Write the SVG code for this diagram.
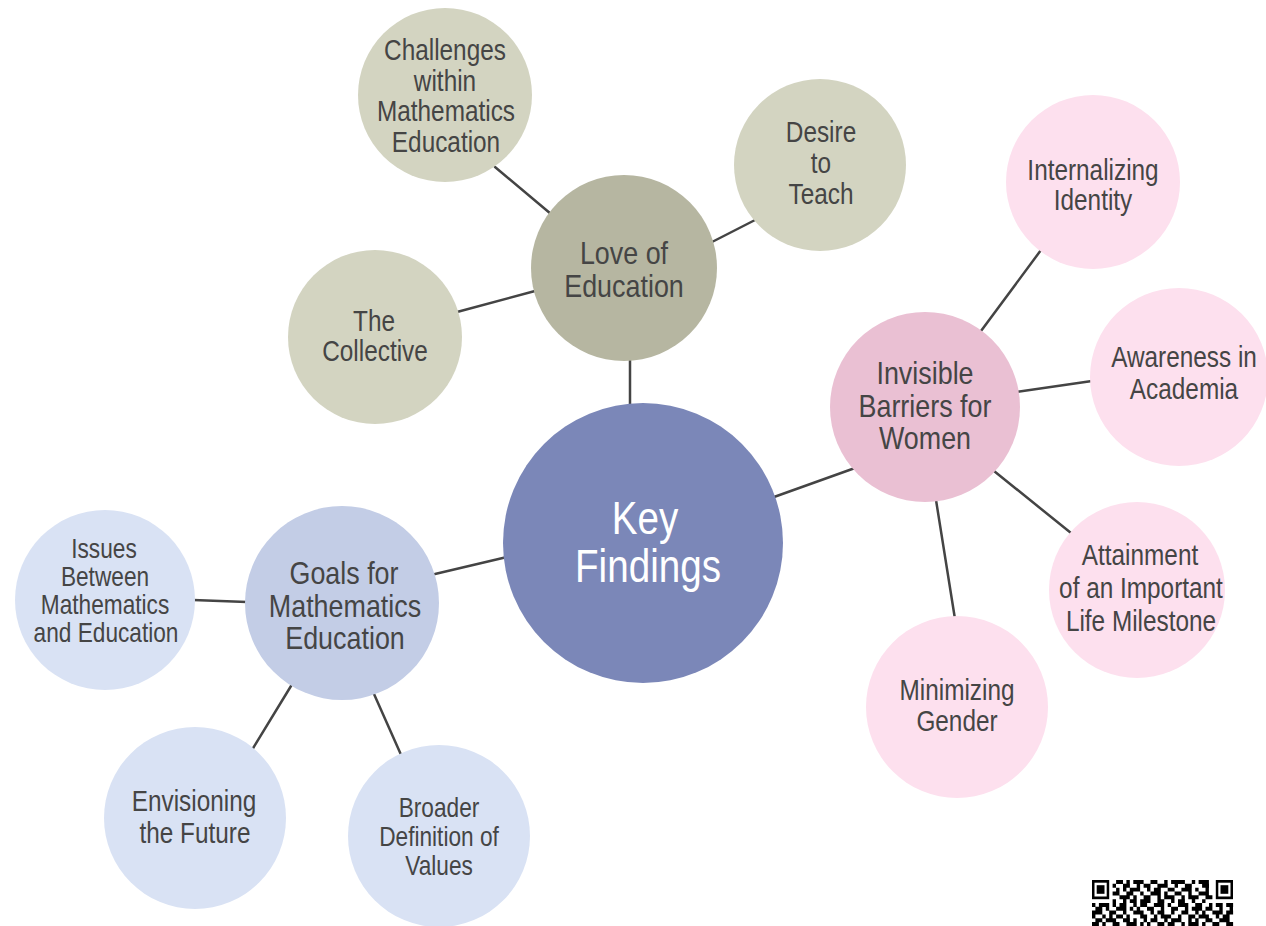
<svg xmlns="http://www.w3.org/2000/svg" width="1266" height="926" viewBox="0 0 1266 926">
<style>
.t{font-family:"Liberation Sans",Arial,sans-serif;fill:#454545;text-anchor:middle}
.s{font-size:29px}
.s2{font-size:27px}
.m{font-size:32px}
.k{font-size:46px;fill:#ffffff}
.olive{fill:#d3d4c1}
.pink{fill:#fde0ee}
.blue{fill:#d9e2f4}
#connectors line{stroke:#444444;stroke-width:2.5;stroke-linecap:round}
</style>
<rect width="1266" height="926" fill="#ffffff"/>
<g id="connectors">
<line x1="630" y1="360" x2="630" y2="406"/>
<line x1="551" y1="214" x2="495" y2="167"/>
<line x1="712" y1="242" x2="757" y2="219"/>
<line x1="535" y1="291" x2="457" y2="312"/>
<line x1="774" y1="497" x2="855" y2="468"/>
<line x1="507" y1="557" x2="435" y2="574"/>
<line x1="981" y1="331" x2="1041" y2="250"/>
<line x1="1016" y1="392" x2="1092" y2="381"/>
<line x1="994" y1="471" x2="1071" y2="533"/>
<line x1="936" y1="500" x2="955" y2="619"/>
<line x1="193" y1="600" x2="247" y2="602"/>
<line x1="291" y1="686" x2="252" y2="750"/>
<line x1="374" y1="694" x2="402" y2="757"/>
</g>
<g id="n-key"><circle cx="643" cy="543" r="140" fill="#7b87b8"/><text class="t k" transform="matrix(0.84 0 0 1 645 534)">Key</text><text class="t k" transform="matrix(0.84 0 0 1 648 582)">Findings</text></g>
<g id="n-love"><circle cx="624" cy="268" r="93" fill="#b6b6a1"/><text class="t m" transform="matrix(0.84 0 0 1 624 264)">Love of</text><text class="t m" transform="matrix(0.84 0 0 1 624 297)">Education</text></g>
<g id="n-challenges"><circle class="olive" cx="445" cy="95" r="87"/><text class="t s" transform="matrix(0.84 0 0 1 445 60)">Challenges</text><text class="t s" transform="matrix(0.84 0 0 1 445 91)">within</text><text class="t s" transform="matrix(0.84 0 0 1 446 121)">Mathematics</text><text class="t s" transform="matrix(0.84 0 0 1 446 152)">Education</text></g>
<g id="n-desire"><circle class="olive" cx="820" cy="165" r="86"/><text class="t s" transform="matrix(0.84 0 0 1 821 142)">Desire</text><text class="t s" transform="matrix(0.84 0 0 1 821 173)">to</text><text class="t s" transform="matrix(0.84 0 0 1 821 204)">Teach</text></g>
<g id="n-collective"><circle class="olive" cx="375" cy="337" r="87"/><text class="t s" transform="matrix(0.84 0 0 1 374 331)">The</text><text class="t s" transform="matrix(0.84 0 0 1 375 361)">Collective</text></g>
<g id="n-invisible"><circle cx="925" cy="407" r="95" fill="#eac0d3"/><text class="t m" transform="matrix(0.84 0 0 1 925 384)">Invisible</text><text class="t m" transform="matrix(0.84 0 0 1 925 417)">Barriers for</text><text class="t m" transform="matrix(0.84 0 0 1 925 449)">Women</text></g>
<g id="n-internalizing"><circle class="pink" cx="1093" cy="182" r="87"/><text class="t s" transform="matrix(0.84 0 0 1 1093 180)">Internalizing</text><text class="t s" transform="matrix(0.84 0 0 1 1093 210)">Identity</text></g>
<g id="n-awareness"><circle class="pink" cx="1179" cy="377" r="89"/><text class="t s" transform="matrix(0.84 0 0 1 1184 367)">Awareness in</text><text class="t s" transform="matrix(0.84 0 0 1 1184 399)">Academia</text></g>
<g id="n-attainment"><circle class="pink" cx="1137" cy="590" r="88"/><text class="t s" transform="matrix(0.84 0 0 1 1140 565)">Attainment</text><text class="t s" transform="matrix(0.84 0 0 1 1141 598)">of an Important</text><text class="t s" transform="matrix(0.84 0 0 1 1141 631)">Life Milestone</text></g>
<g id="n-minimizing"><circle class="pink" cx="957" cy="707" r="91"/><text class="t s" transform="matrix(0.84 0 0 1 957 700)">Minimizing</text><text class="t s" transform="matrix(0.84 0 0 1 957 731)">Gender</text></g>
<g id="n-goals"><circle cx="342" cy="603" r="97" fill="#c3cde6"/><text class="t m" transform="matrix(0.84 0 0 1 344 584)">Goals for</text><text class="t m" transform="matrix(0.84 0 0 1 345 617)">Mathematics</text><text class="t m" transform="matrix(0.84 0 0 1 345 649)">Education</text></g>
<g id="n-issues"><circle class="blue" cx="105" cy="600" r="90"/><text class="t s2" transform="matrix(0.84 0 0 1 104 558)">Issues</text><text class="t s2" transform="matrix(0.84 0 0 1 105 586)">Between</text><text class="t s2" transform="matrix(0.84 0 0 1 105 614)">Mathematics</text><text class="t s2" transform="matrix(0.84 0 0 1 106 642)">and Education</text></g>
<g id="n-envisioning"><circle class="blue" cx="195" cy="818" r="91"/><text class="t s" transform="matrix(0.84 0 0 1 194 811)">Envisioning</text><text class="t s" transform="matrix(0.84 0 0 1 195 843)">the Future</text></g>
<g id="n-broader"><circle class="blue" cx="439" cy="836" r="91"/><text class="t s2" transform="matrix(0.84 0 0 1 439 817)">Broader</text><text class="t s2" transform="matrix(0.84 0 0 1 439 846)">Definition of</text><text class="t s2" transform="matrix(0.84 0 0 1 439 875)">Values</text></g>
<g id="qr" fill="#000000">
<rect x="1092" y="880" width="17.2" height="19.2"/>
<rect x="1094.5" y="882.7" width="12.2" height="13.8" fill="#ffffff"/>
<rect x="1096.7" y="885.2" width="7.8" height="8.6"/>
<rect x="1215.8" y="880" width="17.2" height="19.2"/>
<rect x="1218.3" y="882.7" width="12.2" height="13.8" fill="#ffffff"/>
<rect x="1220.5" y="885.2" width="7.8" height="8.6"/>
<path d="M1116.1 880h6.9v3.9h-6.9zM1126.4 880h3.4v3.9h-3.4zM1133.3 880h10.3v3.9h-10.3zM1150.5 880h6.9v3.9h-6.9zM1164.2 880h3.4v3.9h-3.4zM1171.1 880h13.8v3.9h-13.8zM1191.8 880h3.4v3.9h-3.4zM1198.6 880h10.3v3.9h-10.3z
M1112.6 883.8h3.4v3.9h-3.4zM1123 883.8h6.9v3.9h-6.9zM1136.7 883.8h3.4v3.9h-3.4zM1143.6 883.8h6.9v3.9h-6.9zM1157.4 883.8h10.3v3.9h-10.3zM1174.6 883.8h3.4v3.9h-3.4zM1184.9 883.8h6.9v3.9h-6.9zM1202.1 883.8h6.9v3.9h-6.9z
M1116.1 887.7h3.4v3.9h-3.4zM1123 887.7h3.4v3.9h-3.4zM1129.8 887.7h10.3v3.9h-10.3zM1147 887.7h3.4v3.9h-3.4zM1153.9 887.7h6.9v3.9h-6.9zM1167.7 887.7h6.9v3.9h-6.9zM1181.4 887.7h10.3v3.9h-10.3zM1195.2 887.7h3.4v3.9h-3.4zM1205.5 887.7h3.4v3.9h-3.4z
M1112.6 891.5h6.9v3.9h-6.9zM1126.4 891.5h6.9v3.9h-6.9zM1140.2 891.5h3.4v3.9h-3.4zM1150.5 891.5h10.3v3.9h-10.3zM1164.2 891.5h3.4v3.9h-3.4zM1174.6 891.5h6.9v3.9h-6.9zM1188.3 891.5h3.4v3.9h-3.4zM1198.6 891.5h10.3v3.9h-10.3z
M1119.5 895.3h10.3v3.9h-10.3zM1133.3 895.3h3.4v3.9h-3.4zM1143.6 895.3h6.9v3.9h-6.9zM1157.4 895.3h3.4v3.9h-3.4zM1164.2 895.3h10.3v3.9h-10.3zM1181.4 895.3h3.4v3.9h-3.4zM1188.3 895.3h10.3v3.9h-10.3zM1205.5 895.3h6.9v3.9h-6.9z
M1112.6 899.2h3.4v3.9h-3.4zM1123 899.2h3.4v3.9h-3.4zM1129.8 899.2h6.9v3.9h-6.9zM1140.2 899.2h10.3v3.9h-10.3zM1157.4 899.2h6.9v3.9h-6.9zM1171.1 899.2h3.4v3.9h-3.4zM1178 899.2h6.9v3.9h-6.9zM1191.8 899.2h3.4v3.9h-3.4zM1202.1 899.2h3.4v3.9h-3.4z
M1092 903h3.4v3.9h-3.4zM1098.9 903h10.3v3.9h-10.3zM1112.6 903h3.4v3.9h-3.4zM1119.5 903h6.9v3.9h-6.9zM1133.3 903h3.4v3.9h-3.4zM1140.2 903h6.9v3.9h-6.9zM1153.9 903h10.3v3.9h-10.3zM1167.7 903h3.4v3.9h-3.4zM1178 903h10.3v3.9h-10.3zM1195.2 903h6.9v3.9h-6.9zM1209 903h3.4v3.9h-3.4zM1215.8 903h6.9v3.9h-6.9zM1226.2 903h6.9v3.9h-6.9z
M1095.4 906.8h6.9v3.9h-6.9zM1105.8 906.8h3.4v3.9h-3.4zM1116.1 906.8h10.3v3.9h-10.3zM1129.8 906.8h3.4v3.9h-3.4zM1136.7 906.8h3.4v3.9h-3.4zM1147 906.8h6.9v3.9h-6.9zM1160.8 906.8h3.4v3.9h-3.4zM1171.1 906.8h6.9v3.9h-6.9zM1184.9 906.8h3.4v3.9h-3.4zM1191.8 906.8h10.3v3.9h-10.3zM1205.5 906.8h6.9v3.9h-6.9zM1219.3 906.8h3.4v3.9h-3.4zM1229.6 906.8h3.4v3.9h-3.4z
M1092 910.6h10.3v3.9h-10.3zM1109.2 910.6h6.9v3.9h-6.9zM1123 910.6h3.4v3.9h-3.4zM1133.3 910.6h10.3v3.9h-10.3zM1150.5 910.6h3.4v3.9h-3.4zM1157.4 910.6h6.9v3.9h-6.9zM1171.1 910.6h3.4v3.9h-3.4zM1181.4 910.6h6.9v3.9h-6.9zM1195.2 910.6h3.4v3.9h-3.4zM1202.1 910.6h3.4v3.9h-3.4zM1212.4 910.6h10.3v3.9h-10.3zM1226.2 910.6h6.9v3.9h-6.9z
M1092 914.5h3.4v3.9h-3.4zM1102.3 914.5h3.4v3.9h-3.4zM1109.2 914.5h3.4v3.9h-3.4zM1116.1 914.5h6.9v3.9h-6.9zM1126.4 914.5h3.4v3.9h-3.4zM1140.2 914.5h6.9v3.9h-6.9zM1153.9 914.5h3.4v3.9h-3.4zM1160.8 914.5h10.3v3.9h-10.3zM1178 914.5h3.4v3.9h-3.4zM1188.3 914.5h6.9v3.9h-6.9zM1198.6 914.5h10.3v3.9h-10.3zM1215.8 914.5h3.4v3.9h-3.4zM1222.7 914.5h6.9v3.9h-6.9z
M1095.4 918.3h6.9v3.9h-6.9zM1105.8 918.3h10.3v3.9h-10.3zM1123 918.3h6.9v3.9h-6.9zM1133.3 918.3h3.4v3.9h-3.4zM1143.6 918.3h3.4v3.9h-3.4zM1150.5 918.3h6.9v3.9h-6.9zM1164.2 918.3h3.4v3.9h-3.4zM1171.1 918.3h10.3v3.9h-10.3zM1188.3 918.3h3.4v3.9h-3.4zM1195.2 918.3h3.4v3.9h-3.4zM1205.5 918.3h6.9v3.9h-6.9zM1219.3 918.3h10.3v3.9h-10.3z
M1092 922.1h6.9v3.9h-6.9zM1102.3 922.1h3.4v3.9h-3.4zM1112.6 922.1h6.9v3.9h-6.9zM1126.4 922.1h10.3v3.9h-10.3zM1140.2 922.1h3.4v3.9h-3.4zM1147 922.1h3.4v3.9h-3.4zM1157.4 922.1h6.9v3.9h-6.9zM1167.7 922.1h6.9v3.9h-6.9zM1181.4 922.1h3.4v3.9h-3.4zM1188.3 922.1h10.3v3.9h-10.3zM1202.1 922.1h3.4v3.9h-3.4zM1212.4 922.1h6.9v3.9h-6.9zM1226.2 922.1h6.9v3.9h-6.9z"/>
</g>
</svg>
